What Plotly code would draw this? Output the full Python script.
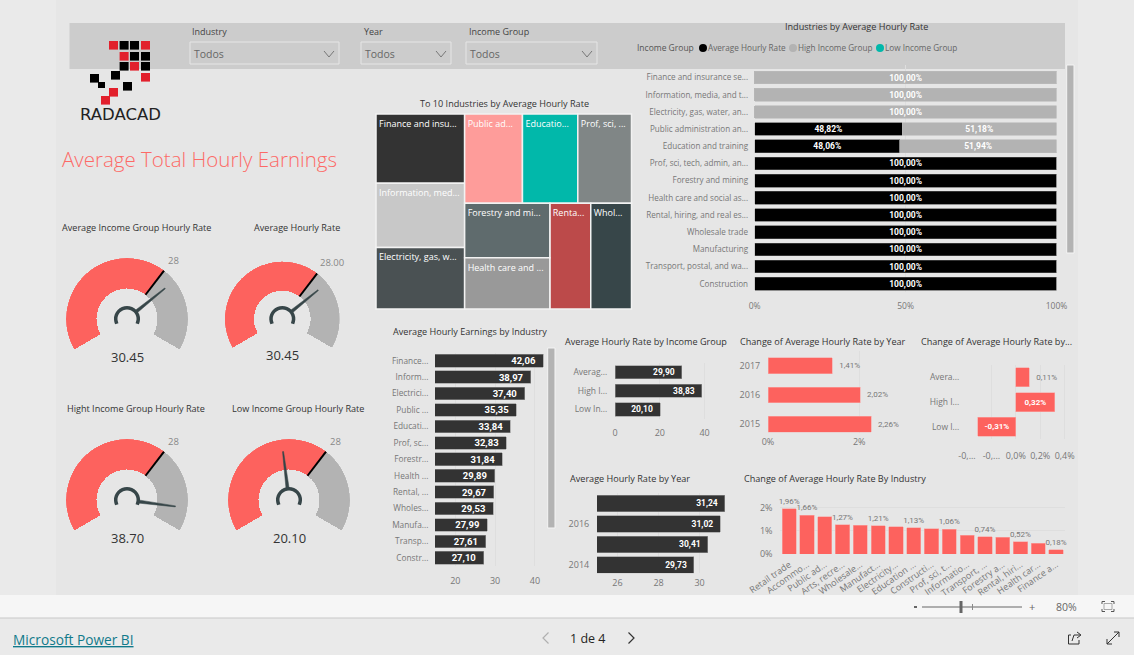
import math
import plotly.graph_objects as go

W, H = 1134, 655
FONT = "Open Sans"
CORAL = "#FD625E"
DARK = "#333333"
GREY = "#B3B3B3"
AXIS_TXT = "#777777"
TITLE_TXT = "#333333"
GRID = "#DEDEDE"

# ---------- data ----------
ind_labels = ["Finance...", "Inform...", "Electrici...", "Public ...", "Educati...", "Prof, sc...", "Forestr...",
              "Health ...", "Rental, ...", "Wholes...", "Manufa...", "Transp...", "Constr..."]
ind_values = [42.06, 38.97, 37.40, 35.35, 33.84, 32.83, 31.84, 29.89, 29.67, 29.53, 27.99, 27.61, 27.10]

stack_labels = ["Finance and insurance se...", "Information, media, and t...", "Electricity, gas, water, an...",
                "Public administration an...", "Education and training", "Prof, sci, tech, admin, an...",
                "Forestry and mining", "Health care and social as...", "Rental, hiring, and real es...",
                "Wholesale trade", "Manufacturing", "Transport, postal, and wa...", "Construction"]
stack_avg = [0, 0, 0, 48.82, 48.06, 100, 100, 100, 100, 100, 100, 100, 100]
stack_high = [100, 100, 100, 51.18, 51.94, 0, 0, 0, 0, 0, 0, 0, 0]

group_labels = ["Averag...", "High I...", "Low In..."]
group_values = [29.90, 38.83, 20.10]
year_labels = ["2017", "2016", "2015", "2014"]
year_values = [31.24, 31.02, 30.41, 29.73]
chg_year_labels = ["2017", "2016", "2015"]
chg_year_values = [1.41, 2.02, 2.26]
chg_group_labels = ["Avera...", "High I...", "Low I..."]
chg_group_values = [0.11, 0.32, -0.31]
chg_group_ticks = [-0.4, -0.2, 0.0, 0.2, 0.4]
chg_group_ticktext = ["-0,...", "-0,...", "0,0%", "0,2%", "0,4%"]
chg_ind_labels = ["Retail trade", "Accommo...", "Public ad...", "Arts, recre...", "Wholesale...", "Manufact...",
                  "Electricity...", "Education ...", "Constructi...", "Prof, sci, t...", "Informatio...",
                  "Transport, ...", "Forestry a...", "Rental, hiri...", "Health car...", "Finance a..."]
chg_ind_values = [1.96, 1.66, 1.61, 1.27, 1.25, 1.21, 1.18, 1.13, 1.08, 1.06, 0.81, 0.74, 0.72, 0.52, 0.46, 0.18]

gauge_titles = ["Average Income Group Hourly Rate", "Average Hourly Rate",
                "Hight Income Group Hourly Rate", "Low Income Group Hourly Rate"]
gauge_values = [30.45, 30.45, 38.70, 20.10]
gauge_targets = [28, 28, 28, 28]
gauge_target_text = ["28", "28.00", "28", "28"]
gauge_max = 42.7

tree_labels = ["Finance and insu...", "Information, med...", "Electricity, gas, w...", "Public ad...", "Educatio...",
               "Prof, sci, ...", "Forestry and mi...", "Health care and ...", "Renta...", "Whol..."]
tree_values = [42.06, 38.97, 37.40, 35.35, 33.84, 32.83, 31.84, 29.89, 29.67, 29.53]
tree_colors = ["#333333", "#C8C8C8", "#4A5153", "#FE9C9A", "#01B8AA", "#808686", "#5F6B6D", "#999999", "#BC4A4A", "#374649"]


# ---------- helpers ----------
def X(p): return p / W
def Y(p): return 1 - p / H
def dx(a, b): return [X(a), X(b)]
def dy(top, bottom): return [Y(bottom), Y(top)]
def comma(v, nd=2): return f"{v:.{nd}f}".replace(".", ",")


fig = go.Figure()
shapes, notes = [], []


def rect(x0, y0, x1, y1, fill, line=None, lw=0):
    shapes.append(dict(type="rect", xref="paper", yref="paper", x0=X(x0), x1=X(x1), y0=Y(y1), y1=Y(y0),
                       fillcolor=fill, line=dict(color=line or fill, width=lw), layer="below"))


def path(pts, color, lw=1, close=False, fill=None):
    d = "M " + " L ".join(f"{X(a):.5f} {Y(b):.5f}" for a, b in pts) + (" Z" if close else "")
    shapes.append(dict(type="path", xref="paper", yref="paper", path=d, layer="below",
                       fillcolor=fill if fill else "rgba(0,0,0,0)", line=dict(color=color, width=lw)))


def text(s, x, y, size=10, color=TITLE_TXT, anchor="center", font=FONT, weight="normal"):
    notes.append(dict(text=s, x=X(x), y=Y(y), xref="paper", yref="paper", showarrow=False, xanchor=anchor,
                      yanchor="middle", font=dict(size=size, color=color, family=font, weight=weight), borderpad=0, borderwidth=0))


def circle(cx, cy, r, fill):
    shapes.append(dict(type="circle", xref="paper", yref="paper", x0=X(cx - r), x1=X(cx + r), y0=Y(cy + r), y1=Y(cy - r),
                       fillcolor=fill, line=dict(width=0), layer="below"))


def axes(n, xd, yd, xr, yr, xticks=None, xtext=None, xlen=5, ylen=4, xgrid=True, ygrid=False,
         xtype="linear", ytype="category", yticks=None, ytext=None, xangle=None, fs=9, xfs=None):
    tick = dict(ticks="outside", tickcolor="rgba(0,0,0,0)", tickwidth=1, showline=False, zeroline=False,
                gridcolor=GRID, gridwidth=1, fixedrange=True)
    ax = dict(domain=dx(*xd), range=xr, type=xtype, anchor=f"y{n}", ticklen=xlen, showgrid=xgrid,
              tickfont=dict(size=xfs or fs, color=AXIS_TXT, family=FONT), **tick)
    ay = dict(domain=dy(*yd), range=yr, type=ytype, anchor=f"x{n}", ticklen=ylen, showgrid=ygrid,
              tickfont=dict(size=fs, color=AXIS_TXT, family=FONT), **tick)
    if xticks is not None:
        ax.update(tickmode="array", tickvals=xticks, ticktext=xtext)
    if yticks is not None:
        ay.update(tickmode="array", tickvals=yticks, ticktext=ytext)
    if xangle is not None:
        ax["tickangle"] = xangle
    fig.layout[f"xaxis{n}"] = ax
    fig.layout[f"yaxis{n}"] = ay


def hbar(n, labels, values, width, color, txt, pos="inside", anchor="end", tcolor="white", size=9, bold=True, edge="#8F8F8F"):
    fig.add_trace(go.Bar(x=values, y=labels, orientation="h", width=width, marker=dict(color=color, line=dict(width=0.6, color=edge)),
                         text=txt, textposition=pos, insidetextanchor=anchor, constraintext="none", textangle=0,
                         textfont=dict(size=size, color=tcolor, family="Roboto", weight="bold" if bold else "normal"),
                         cliponaxis=False, xaxis=f"x{n}", yaxis=f"y{n}", showlegend=False))


# ---------- page furniture ----------
rect(56, 0, 1078, 595, "#E6E6E6")
rect(0, 595, W, 618, "#F6F6F6")
rect(0, 617.5, W, 618.5, "#C8C8C8")
rect(69.5, 23, 1065, 69, "#CCCCCC")

# logo
for (x0, y0, c) in [(109, 41, "#E2202C"), (119.6, 41, "#000"), (130, 41, "#000"), (141, 41, "#E2202C"),
                    (119.6, 52, "#E2202C"), (130, 52, "#000"), (141, 52, "#000"),
                    (119.6, 62, "#000"), (130, 62, "#E2202C"), (141, 62, "#000"), (141, 73, "#E2202C"),
                    (111, 71, "#000"), (90, 74, "#000"), (123, 82, "#000"), (109, 88, "#E2202C"), (101, 96, "#E2202C")]:
    rect(x0, y0, x0 + 9, y0 + 8.6, c)
rect(98, 82, 105, 88, "#000")
text("RADACAD", 120.5, 115, 16.5, "#222222", font="DejaVu Sans")
text("Average Total Hourly Earnings", 199.5, 159, 20.5, "#FD6A66", weight=300)

# slicers
for lab, lx, bx0, bx1 in [("Industry", 192, 190, 339), ("Year", 363.5, 361, 451), ("Income Group", 469, 466, 597)]:
    text(lab, lx, 31, 9, "#444444", "left")
    rect(bx0, 42, bx1, 64, "rgba(0,0,0,0)", "#E6E6E6", 1)
    text("Todos", bx0 + 4, 54, 10.5, "#666666", "left")
    path([(bx1 - 15, 51), (bx1 - 10, 57), (bx1 - 5, 51)], "#777777", 1)

# legend of the stacked chart
text("Income Group", 637, 48, 8.5, "#555555", "left")
for cx, lab, c in [(703, "Average Hourly Rate", "#000000"), (793, "High Income Group", GREY), (880, "Low Income Group", "#01B8AA")]:
    circle(cx, 48, 4, c)
    text(lab, cx + 5, 48, 8.2, "#666666", "left")

TS = 9.1
text("Industries by Average Hourly Rate", 856, 27, TS)

# scroll bars
rect(1066.7, 65, 1074, 253, GREY, "#F4F4F4", 1)
rect(547.7, 348, 555, 528, GREY, "#F4F4F4", 1)

# titles
text("To 10 Industries by Average Hourly Rate", 504, 103, TS)
text("Average Hourly Earnings by Industry", 393, 331.5, TS, anchor="left")
text("Average Hourly Rate by Income Group", 565, 341.7, TS, anchor="left")
text("Average Hourly Rate by Year", 569.5, 478.7, TS, anchor="left")
text("Change of Average Hourly Rate by Year", 740, 341.7, TS, anchor="left")
text("Change of Average Hourly Rate by...", 921, 341.7, TS, anchor="left")
text("Change of Average Hourly Rate By Industry", 743.5, 478.7, TS, anchor="left")

# ---------- gauges ----------
gauge_geo = [(127, 319, 61, 30.5), (282.3, 319, 57.5, 28.3), (127, 500, 61, 30.5), (289, 500, 61, 30.5)]
title_pos = [(136, 227.7), (297, 227.7), (136, 408), (298, 408)]
value_pos = [(127, 357), (282, 355), (127, 538), (289, 538)]
target_pos = [(173, 260), (331.7, 262), (173, 441), (335.7, 441)]
START, SPAN = 210.0, 240.0


def theta(v): return START - SPAN * v / gauge_max


for i, (cx, cy, R, r_in) in enumerate(gauge_geo):
    sub = "polar" if i == 0 else f"polar{i + 1}"
    fig.layout[sub] = dict(domain=dict(x=dx(cx - R, cx + R), y=dy(cy - R, cy + R)), bgcolor="rgba(0,0,0,0)",
                           radialaxis=dict(visible=False, range=[0, 1]),
                           angularaxis=dict(visible=False, rotation=0, direction="counterclockwise", thetaunit="degrees"),
                           barmode="overlay")
    v, t = gauge_values[i], gauge_targets[i]
    hole = r_in / R
    th0, th1, th2 = theta(0), theta(t), theta(gauge_max)
    fig.add_trace(go.Barpolar(theta=[(th0 + th1) / 2, (th1 + th2) / 2], width=[th0 - th1, th1 - th2],
                              r=[1 - hole, 1 - hole], base=[hole, hole], marker=dict(color=[CORAL, GREY], line=dict(width=0)),
                              subplot=sub, showlegend=False))
    fig.add_trace(go.Scatterpolar(r=[hole, 1], theta=[th1, th1], mode="lines", line=dict(color="#000000", width=2),
                                  subplot=sub, showlegend=False))
    hub = 11.3 / R
    arc = [205 - k * 23 for k in range(11)]
    fig.add_trace(go.Scatterpolar(r=[hub] * len(arc), theta=arc, mode="lines", line=dict(color="#374649", width=3.5, shape="spline"),
                                  subplot=sub, showlegend=False))
    tv = theta(v)
    tip = 0.8
    fig.add_trace(go.Scatterpolar(r=[hub, tip, tip, hub, hub], theta=[tv + 8, tv + 0.6, tv - 0.6, tv - 8, tv + 8], mode="lines",
                                  fill="toself", fillcolor="#374649", line=dict(color="#374649", width=0.5),
                                  subplot=sub, showlegend=False))
    text(gauge_titles[i], title_pos[i][0], title_pos[i][1], TS)
    text(f"{v:.2f}", value_pos[i][0], value_pos[i][1], 13, "#333333")
    text(gauge_target_text[i], target_pos[i][0], target_pos[i][1], 9.5, "#888888")

# ---------- treemap ----------
ids = ["root", "col1", "right", "top", "bottom", "stack"] + [f"t{i}" for i in range(10)]
parents = ["", "root", "root", "right", "right", "bottom",
           "col1", "col1", "col1", "top", "top", "top", "stack", "stack", "bottom", "bottom"]
node_labels = [""] * 6 + tree_labels
node_values = [0] * 6 + tree_values
node_colors = ["rgba(0,0,0,0)"] * 6 + tree_colors
line_w = [0] * 6 + [1.5] * 10
txt_colors = ["white"] * 16
fig.add_trace(go.Treemap(ids=ids, parents=parents, labels=node_labels, values=node_values, branchvalues="remainder",
                         sort=False, tiling=dict(packing="slice-dice", pad=0), pathbar=dict(visible=False),
                         marker=dict(colors=node_colors, line=dict(color="#F2F2F2", width=line_w), pad=dict(t=0, l=0, r=0, b=0),
                                     depthfade=False),
                         textinfo="label", textposition="top left", textfont=dict(size=9, family=FONT, color=txt_colors),
                         domain=dict(x=dx(376, 631.5), y=dy(114, 309)), root=dict(color="rgba(0,0,0,0)")))

# ---------- stacked 100% ----------
n = 1
axes(n, (754.7, 1056.5), (65, 292.3), [0, 100], [12.5, -0.733], xticks=[0, 50, 100], xtext=["0%", "50%", "100%"],
     xlen=5, ylen=4, fs=8.1, xfs=8.5)
hbar(n, stack_labels, stack_avg, 0.74, "#000000", [f"{comma(v)}%" if v else "" for v in stack_avg], anchor="middle", size=8.5, edge="#555555")
hbar(n, stack_labels, stack_high, 0.74, GREY, [f"{comma(v)}%" if v else "" for v in stack_high], anchor="middle", size=8.5, edge="#BBBBBB")

# ---------- earnings by industry ----------
n = 2
axes(n, (435, 548), (352.5, 566), [14.9, 43.3], [12.5, -0.5], xticks=[20, 30, 40], xtext=["20", "30", "40"], xlen=6, ylen=4, fs=8.3, xfs=9)
hbar(n, ind_labels, ind_values, 0.77, DARK, [comma(v) + "\u00a0\u00a0" for v in ind_values], size=9.5)

# ---------- by income group ----------
n = 3
axes(n, (615, 720), (363, 418.6), [0, 46.9], [2.5, -0.5], xticks=[0, 20, 40], xtext=["0", "20", "40"], xlen=6, ylen=5, fs=8.5, xfs=9)
hbar(n, group_labels, group_values, 0.72, DARK, [comma(v) + "\u00a0\u00a0" for v in group_values], size=8.5)

# ---------- by year ----------
n = 4
axes(n, (597, 735), (493, 573.2), [25, 31.73], [3.4, -0.5], xticks=[26, 28, 30], xtext=["26", "28", "30"], xlen=1, ylen=5,
     yticks=["2016", "2014"], ytext=["2016", "2014"], fs=9)
hbar(n, year_labels, year_values, 0.8, DARK, [comma(v) + "\u00a0\u00a0" for v in year_values], size=8.5)

# ---------- change by year ----------
n = 5
axes(n, (768, 880), (351, 432.5), [0, 2.456], [2.28, -0.5], xticks=[0, 2], xtext=["0%", "2%"], xlen=1, ylen=5, fs=9)
hbar(n, chg_year_labels, chg_year_values, 0.535, CORAL, ["\u00a0\u00a0" + comma(v) + "%" for v in chg_year_values],
     pos="outside", tcolor=AXIS_TXT, size=8, bold=False, edge="#F8A5A3")

# ---------- change by income group ----------
n = 6
axes(n, (967, 1072), (365, 439), [-0.4, 0.46], [2.5, -0.5], xticks=chg_group_ticks, xtext=chg_group_ticktext, xlen=8, ylen=5, fs=8.5, xfs=9)
fig.add_trace(go.Bar(x=chg_group_values, y=chg_group_labels, orientation="h", width=0.77, marker=dict(color=CORAL, line=dict(width=0.6, color="#F8A5A3")),
                     text=["\u00a0\u00a0" + comma(chg_group_values[0]) + "%", comma(chg_group_values[1]) + "%", comma(chg_group_values[2]) + "%"],
                     textposition=["outside", "inside", "inside"], insidetextanchor="middle", constraintext="none", textangle=0,
                     textfont=dict(size=8, family="Roboto", color=[AXIS_TXT, "white", "white"], weight=["normal", "bold", "bold"]),
                     cliponaxis=False, xaxis="x6", yaxis="y6", showlegend=False))

# ---------- change by industry ----------
n = 7
shown = {0, 1, 3, 5, 7, 9, 11, 13, 15}
axes(n, (780.3, 1065), (495, 554), [-0.5, 15.5], [0, 2.543], xticks=chg_ind_labels, xtext=chg_ind_labels, xlen=1, ylen=5,
     xgrid=False, ygrid=True, xtype="category", ytype="linear", yticks=[0, 1, 2], ytext=["0%", "1%", "2%"], xangle=-35, fs=9, xfs=9)
fig.add_trace(go.Bar(x=chg_ind_labels, y=chg_ind_values, width=0.8, marker=dict(color=CORAL, line=dict(width=0.6, color="#F8A5A3")),
                     text=[comma(v) + "%" if i in shown else "" for i, v in enumerate(chg_ind_values)],
                     textposition="outside", textangle=0, constraintext="none",
                     textfont=dict(size=8, family="Roboto", color=AXIS_TXT), cliponaxis=False,
                     xaxis="x7", yaxis="y7", showlegend=False))

# ---------- status bar / footer ----------
rect(914, 606, 917, 608, "#666666")
path([(922, 607), (1022, 607)], "#666666", 1)
rect(959.5, 601, 962.5, 613, "#666666")
path([(972.5, 604), (972.5, 610)], "#888888", 1)
text("+", 1032, 606, 11, "#666666")
text("80%", 1066, 606.5, 10.5, "#666666")
path([(1102, 604), (1102, 601.5), (1105, 601.5)], "#555555", 1)
path([(1111, 601.5), (1114, 601.5), (1114, 604)], "#555555", 1)
path([(1114, 609), (1114, 611.5), (1111, 611.5)], "#555555", 1)
path([(1105, 611.5), (1102, 611.5), (1102, 609)], "#555555", 1)
rect(1104, 603.5, 1112, 609.5, "rgba(0,0,0,0)", "#888888", 0.7)
text("<u>Microsoft Power BI</u>", 13, 639, 13.7, "#117A8B", "left")
text("1 de 4", 587, 638, 12.5, "#252423")
path([(548.5, 632.5), (543, 638), (548.5, 643.5)], "#B0B0B0", 1.2)
path([(628.5, 632.5), (634, 638), (628.5, 643.5)], "#333333", 1.2)
path([(1071, 635), (1068.5, 635), (1068.5, 644), (1079, 644), (1079, 640)], "#333333", 1)
path([(1072, 641), (1074, 635), (1080, 635)], "#333333", 1)
path([(1077, 632), (1081, 635), (1077, 638)], "#333333", 1)
path([(1107, 644), (1119, 632)], "#333333", 1)
path([(1114, 632), (1119, 632), (1119, 637)], "#333333", 1)
path([(1107, 639), (1107, 644), (1112, 644)], "#333333", 1)

fig.update_layout(width=W, height=H, autosize=False, margin=dict(l=0, r=0, t=0, b=0, pad=0, autoexpand=False),
                  paper_bgcolor="#EAEAEA", plot_bgcolor="rgba(0,0,0,0)", barmode="stack", showlegend=False,
                  shapes=shapes, annotations=notes, font=dict(family=FONT), hovermode=False)
fig.write_html("out.html", config=dict(displayModeBar=False, responsive=False),
               post_script="document.body.style.margin='0';document.body.style.overflow='hidden';")
